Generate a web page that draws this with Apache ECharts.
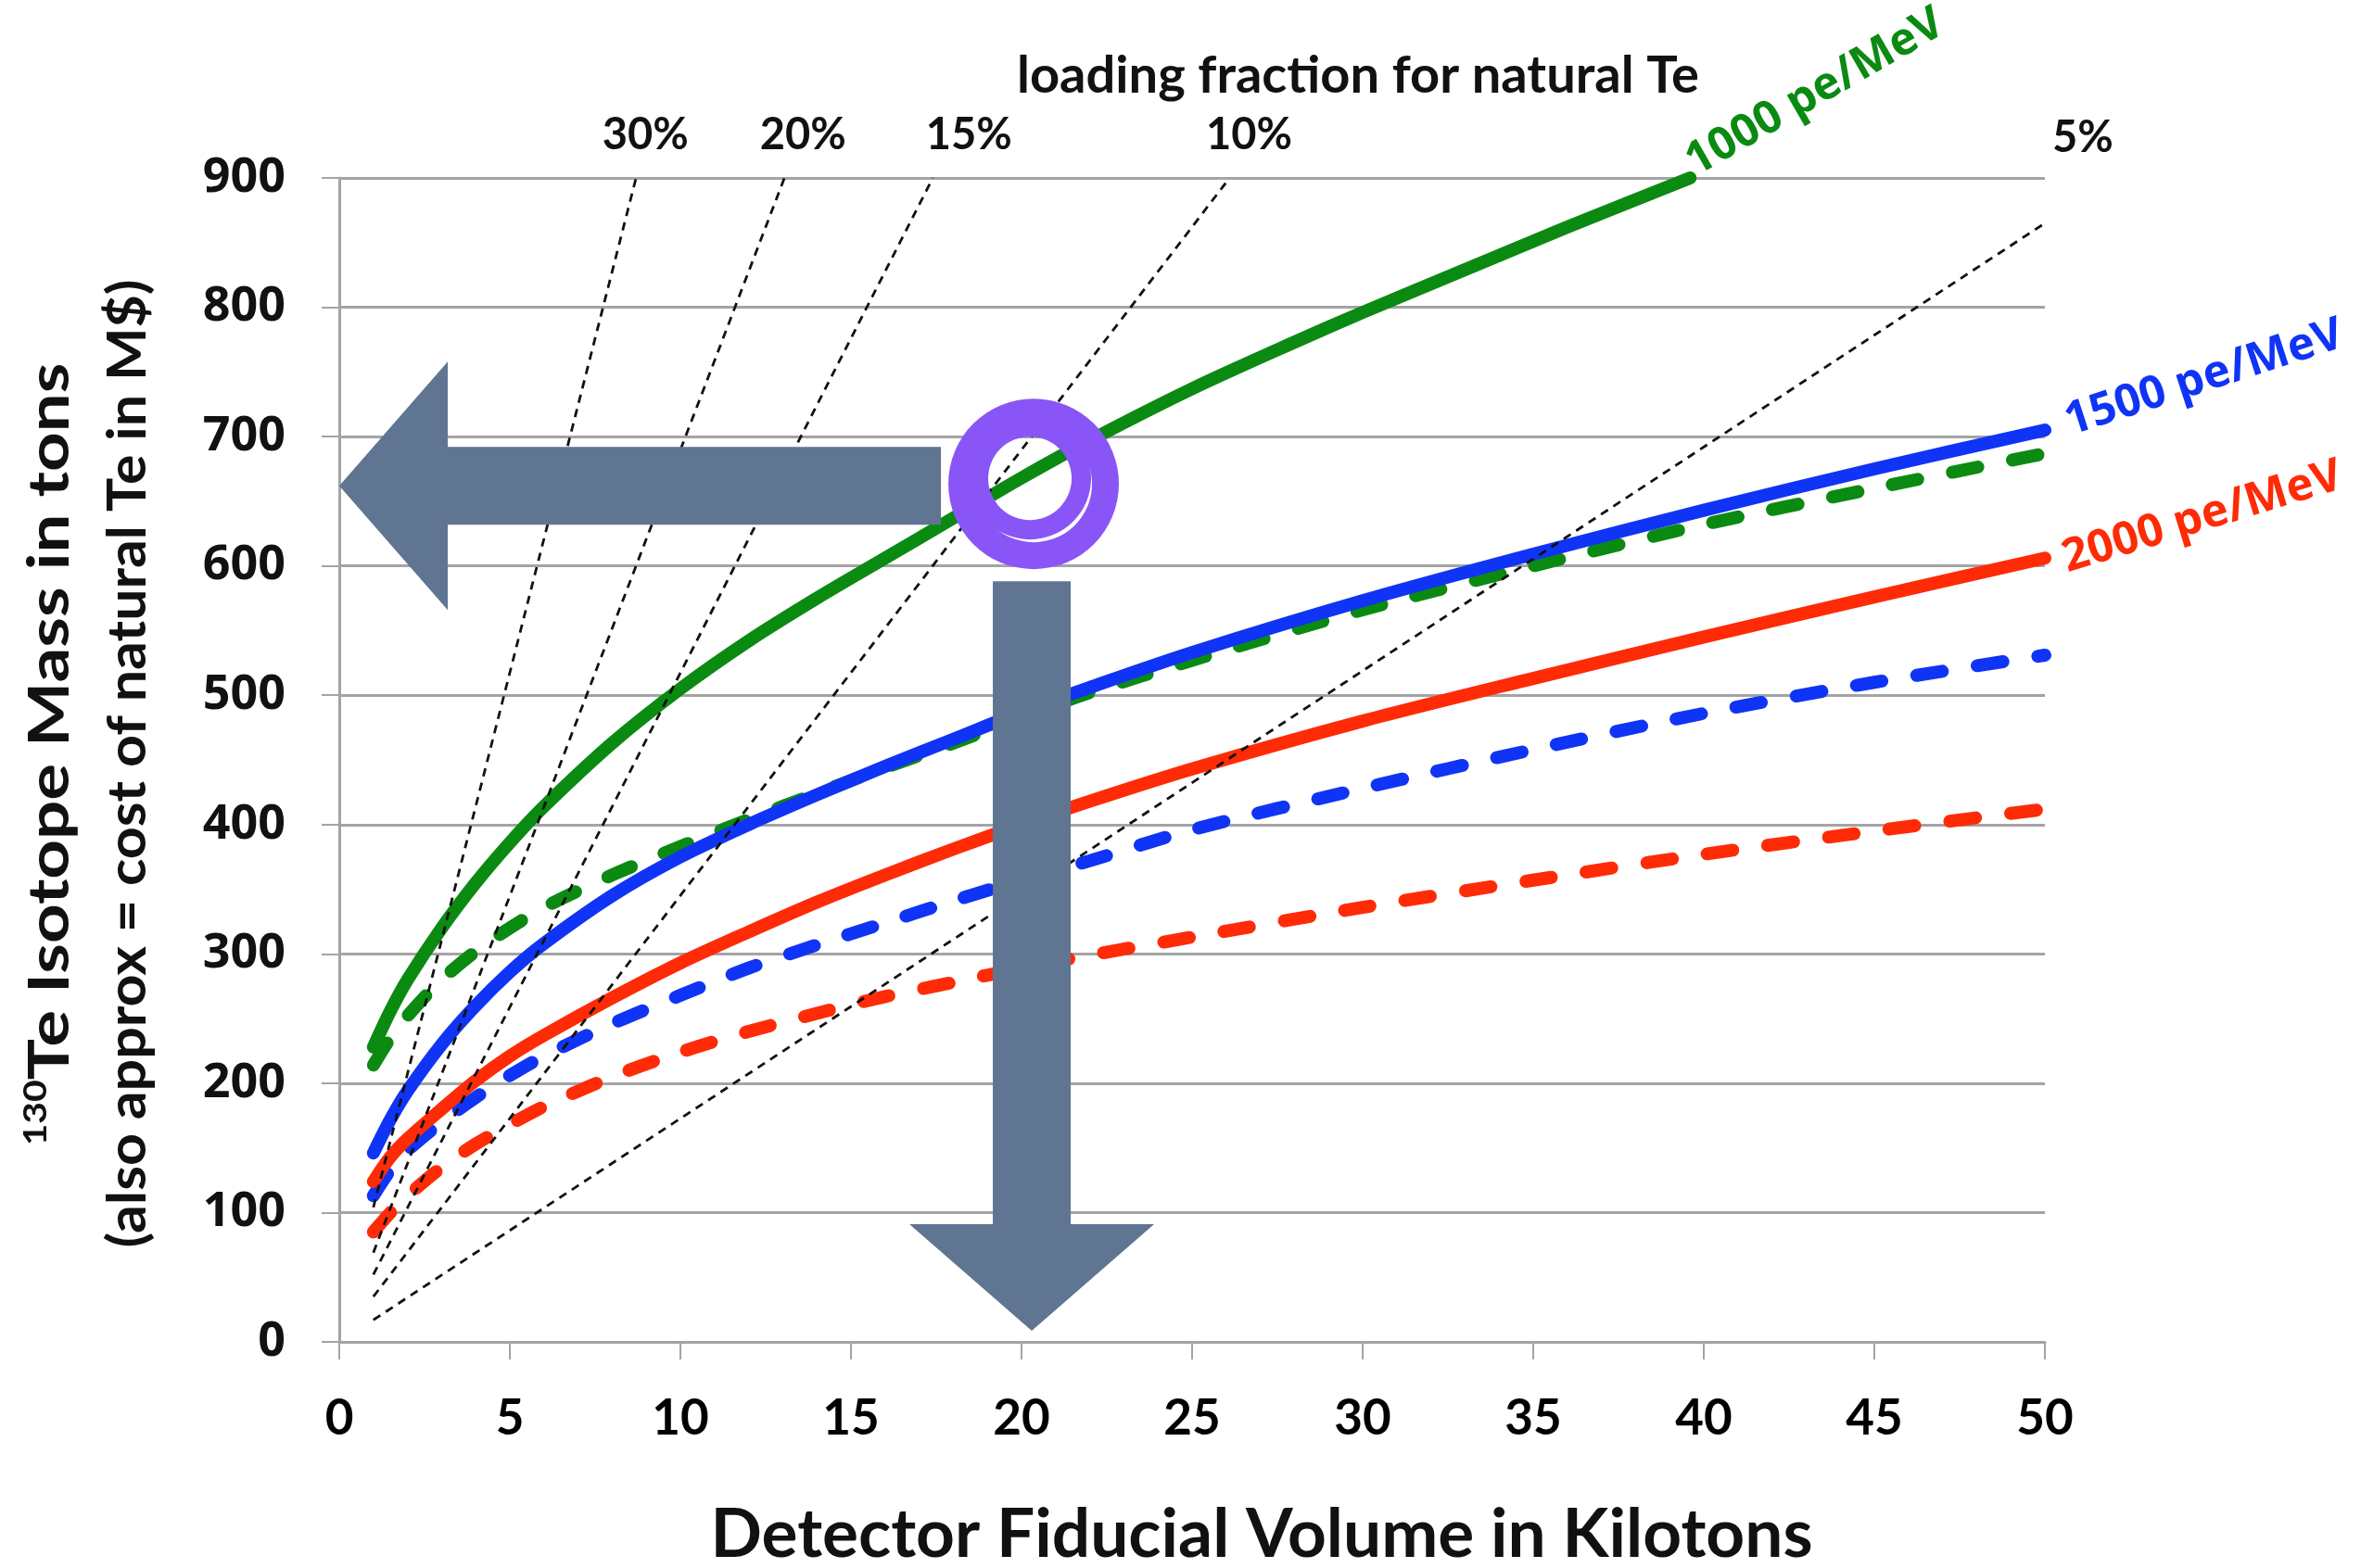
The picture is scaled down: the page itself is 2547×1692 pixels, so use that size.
<!DOCTYPE html>
<html>
<head>
<meta charset="utf-8">
<title>130Te isotope mass vs detector fiducial volume</title>
<script src="https://cdn.jsdelivr.net/npm/echarts@6/dist/echarts.min.js"></script>
<style>
  html, body { margin: 0; padding: 0; background: #ffffff; }
  #chart { width: 2547px; height: 1692px; }
</style>
</head>
<body>
<div id="chart"></div>
<script>
// ---------------------------------------------------------------
// Data
// ---------------------------------------------------------------
// Fiducial volume (kilotons) where the curves are sampled
const volumeKt = [1, 1.5, 2, 3, 4, 5, 6, 8, 10, 12, 14, 16, 18, 20, 22, 25, 30, 35, 40, 45, 50];
// The 1000 pe/MeV solid curve leaves the plot at 900 t, so it has its own sampling
const volumeKtGreen = [1, 1.5, 2, 3, 4, 5, 6, 8, 10, 12, 14, 16, 18, 20, 22, 25, 28, 30, 33, 36, 39.6];

// 130Te isotope mass in tons
const mass1000Solid  = [228, 256, 280, 320, 355, 386, 414, 463, 505, 542, 575, 606, 637, 668, 697, 737, 773, 796, 829, 862, 900];
const mass1000Dashed = [214, 235, 252, 280, 302, 320, 336, 361, 383, 404, 424, 444, 463, 483, 502, 527, 566, 600, 632, 660, 687];
const mass1500Solid  = [146, 172, 194, 230, 260, 286, 308, 345, 375, 400, 423, 445, 466, 487, 506, 533, 573, 609, 643, 675, 705];
const mass1500Dashed = [113, 133, 148, 170, 189, 206, 221, 246, 268, 289, 307, 324, 341, 357, 372, 396, 428, 458, 486, 510, 531];
const mass2000Solid  = [124, 143, 157, 180, 202, 221, 237, 266, 293, 317, 340, 361, 381, 400, 418, 443, 480, 513, 545, 576, 606];
const mass2000Dashed = [85, 100, 113, 135, 153, 168, 182, 205, 224, 240, 254, 267, 278, 289, 299, 313, 336, 357, 377, 395, 412];

// Light-yield labels for the three curve families
const lightYieldLabels = ['1000 pe/MeV', '1500 pe/MeV', '2000 pe/MeV'];

// Constant loading-fraction guide lines (natural Te): start and end points
const loadingPct   = ['5%', '10%', '15%', '20%', '30%'];
const loadingStart = [[1, 17], [1, 35], [1, 52], [1, 69], [1, 104]];
const loadingEnd   = [[50, 865], [26.1, 900], [17.4, 900], [13.05, 900], [8.7, 900]];

// Axis ticks
const xTicks = { min: 0, max: 50, step: 5 };
const yTicks = { min: 0, max: 900, step: 100 };

// Highlighted working point: ~20 kt fiducial volume, ~660 t of 130Te
const focusPoint = [20.3, 662];

// ---------------------------------------------------------------
// Styling / layout
// ---------------------------------------------------------------
const GREEN = '#0b8a12';
const BLUE  = '#1034f5';
const RED   = '#ff2b06';
const GRID_GRAY = '#a4a4a4';
const ARROW = '#5f7592';
const MARKER = '#8a55f6';
const CLEAR = 'rgba(0,0,0,0)';

const GRID = { left: 366, right: 341, top: 192, bottom: 244 };

// on-screen pixel offsets of the guide-line labels from each line's top end
const pctLabelOffset = { '5%': [41, -92], '10%': [21, -46], '15%': [39, -46], '20%': [20, -46], '30%': [10, -46] };
// on-screen pixel offsets and rotation of the light-yield labels from their curve ends
const yieldLabelLayout = [
  { offset: [135, -92], rotate: 30 },
  { offset: [172, -56], rotate: 18 },
  { offset: [170, -44], rotate: 17 }
];

// label offsets are applied in the label's rotated frame; convert a screen offset into it
function rotatedOffset(d, deg) {
  const t = deg * Math.PI / 180, cs = Math.cos(t), sn = Math.sin(t);
  return [d[0] * cs - d[1] * sn, d[0] * sn + d[1] * cs];
}

function zip(xs, ys) { return xs.map((x, i) => [x, ys[i]]); }

function curve(name, xs, ys, color, dashed) {
  return {
    name: name,
    type: 'line',
    data: zip(xs, ys),
    smooth: 0.3,
    showSymbol: false,
    symbol: 'none',
    silent: true,
    z: 3,
    lineStyle: {
      color: color,
      width: 14,
      type: dashed ? [28, 38] : 'solid',
      cap: 'round',
      join: 'round'
    }
  };
}

const curveSeries = [
  curve('1000 pe/MeV', volumeKtGreen, mass1000Solid, GREEN, false),
  curve('1000 pe/MeV dashed', volumeKt, mass1000Dashed, GREEN, true),
  curve('1500 pe/MeV', volumeKt, mass1500Solid, BLUE, false),
  curve('1500 pe/MeV dashed', volumeKt, mass1500Dashed, BLUE, true),
  curve('2000 pe/MeV', volumeKt, mass2000Solid, RED, false),
  curve('2000 pe/MeV dashed', volumeKt, mass2000Dashed, RED, true)
];

const loadingSeries = loadingPct.map((pct, i) => ({
  name: 'loading ' + pct,
  type: 'line',
  data: [loadingStart[i], loadingEnd[i]],
  showSymbol: false,
  symbol: 'none',
  silent: true,
  z: 5,
  lineStyle: { color: '#111111', width: 2.8, type: [9, 7] }
}));

// Labels of the guide lines, placed at their upper ends
const pctLabelSeries = {
  type: 'scatter',
  symbolSize: 2,
  itemStyle: { color: CLEAR, opacity: 1 },
  silent: true,
  clip: false,
  z: 6,
  data: loadingPct.map((pct, i) => ({
    value: loadingEnd[i],
    name: pct,
    label: {
      show: true,
      position: 'inside',
      offset: pctLabelOffset[pct],
      formatter: pct,
      fontFamily: 'Lato',
      fontWeight: 'bold',
      fontSize: 47,
      color: '#111111'
    }
  }))
};

// Light-yield labels, placed beyond the end of each solid curve
const yieldEnds = [
  [volumeKtGreen[volumeKtGreen.length - 1], mass1000Solid[mass1000Solid.length - 1]],
  [volumeKt[volumeKt.length - 1], mass1500Solid[mass1500Solid.length - 1]],
  [volumeKt[volumeKt.length - 1], mass2000Solid[mass2000Solid.length - 1]]
];
const yieldColors = [GREEN, BLUE, RED];
const yieldLabelSeries = {
  type: 'scatter',
  symbolSize: 2,
  itemStyle: { color: CLEAR, opacity: 1 },
  silent: true,
  clip: false,
  z: 6,
  data: lightYieldLabels.map((txt, i) => ({
    value: yieldEnds[i],
    name: txt,
    label: {
      show: true,
      position: 'inside',
      offset: rotatedOffset(yieldLabelLayout[i].offset, yieldLabelLayout[i].rotate),
      rotate: yieldLabelLayout[i].rotate,
      formatter: txt,
      fontFamily: 'Noto Sans',
      fontWeight: 'bold',
      fontSize: 49,
      color: yieldColors[i]
    }
  }))
};

const chart = echarts.init(document.getElementById('chart'), null, { renderer: 'canvas' });

chart.setOption({
  animation: false,
  backgroundColor: '#ffffff',
  grid: { left: GRID.left, right: GRID.right, top: GRID.top, bottom: GRID.bottom, containLabel: false },
  xAxis: {
    type: 'value',
    min: xTicks.min,
    max: xTicks.max,
    interval: xTicks.step,
    axisLine: { show: true, onZero: false, lineStyle: { color: GRID_GRAY, width: 3 } },
    axisTick: { show: true, inside: false, length: 19, lineStyle: { color: GRID_GRAY, width: 2 } },
    splitLine: { show: false },
    axisLabel: {
      margin: 56,
      fontFamily: 'Lato',
      fontWeight: 'bold',
      fontSize: 53,
      color: '#000000'
    }
  },
  yAxis: {
    type: 'value',
    min: yTicks.min,
    max: yTicks.max,
    interval: yTicks.step,
    axisLine: { show: true, lineStyle: { color: GRID_GRAY, width: 3 } },
    axisTick: { show: true, inside: false, length: 19, lineStyle: { color: GRID_GRAY, width: 2 } },
    splitLine: { show: true, lineStyle: { color: GRID_GRAY, width: 3 } },
    axisLabel: {
      margin: 58,
      fontFamily: 'Noto Sans',
      fontWeight: 'bold',
      fontSize: 52,
      color: '#111111'
    }
  },
  series: curveSeries.concat(loadingSeries, [pctLabelSeries, yieldLabelSeries])
});

// ---------------------------------------------------------------
// Titles and the highlighted working point (arrows + circle)
// ---------------------------------------------------------------
const c = chart.convertToPixel({ gridIndex: 0 }, focusPoint);
const yAxisAtFocus = chart.convertToPixel({ gridIndex: 0 }, [xTicks.min, focusPoint[1]]);
const xAxisAtFocus = chart.convertToPixel({ gridIndex: 0 }, [focusPoint[0], yTicks.min]);

const ARW = { shaftHalf: 42, headHalf: 134, headLen: 117, gapLeft: 98, gapBelow: 103, tipLift: 12, downHeadLen: 115, downHeadHalf: 132 };

const lx = yAxisAtFocus[0], ly = c[1];
const leftArrow = [
  [lx, ly],
  [lx + ARW.headLen, ly - ARW.headHalf],
  [lx + ARW.headLen, ly - ARW.shaftHalf],
  [c[0] - ARW.gapLeft, ly - ARW.shaftHalf],
  [c[0] - ARW.gapLeft, ly + ARW.shaftHalf],
  [lx + ARW.headLen, ly + ARW.shaftHalf],
  [lx + ARW.headLen, ly + ARW.headHalf]
];

const dx = c[0], tipY = xAxisAtFocus[1] - ARW.tipLift, baseY = tipY - ARW.downHeadLen, topY = c[1] + ARW.gapBelow;
const downArrow = [
  [dx - ARW.shaftHalf, topY],
  [dx + ARW.shaftHalf, topY],
  [dx + ARW.shaftHalf, baseY],
  [dx + ARW.downHeadHalf, baseY],
  [dx, tipY],
  [dx - ARW.downHeadHalf, baseY],
  [dx - ARW.shaftHalf, baseY]
];

const plotCenterY = (GRID.top + (1692 - GRID.bottom)) / 2;

chart.setOption({
  graphic: [
    {
      type: 'text', x: 1465, y: 82, z: 10,
      style: {
        text: 'loading fraction for natural Te',
        fontFamily: 'Lato', fontWeight: 'bold', fontSize: 56,
        fill: '#111111', align: 'center', verticalAlign: 'middle'
      }
    },
    {
      type: 'text', x: 1361, y: 1656, z: 10,
      style: {
        text: 'Detector Fiducial Volume in Kilotons',
        fontFamily: 'Lato', fontWeight: 'bold', fontSize: 73,
        fill: '#111111', align: 'center', verticalAlign: 'middle'
      }
    },
    {
      type: 'text', x: 54, y: plotCenterY - 6, rotation: Math.PI / 2, scaleX: 1.2, z: 10,
      style: {
        text: '{sup|130}{main|Te Isotope Mass in tons}',
        align: 'center', verticalAlign: 'middle', fill: '#111111',
        rich: {
          sup: { fontFamily: 'Lato', fontWeight: 'bold', fontSize: 34, verticalAlign: 'top', lineHeight: 64, fill: '#111111' },
          main: { fontFamily: 'Lato', fontWeight: 'bold', fontSize: 62, lineHeight: 64, fill: '#111111' }
        }
      }
    },
    {
      type: 'text', x: 138, y: plotCenterY + 4, rotation: Math.PI / 2, scaleX: 1.05, z: 10,
      style: {
        text: '(also approx = cost of natural Te in M$)',
        fontFamily: 'Lato', fontWeight: 'bold', fontSize: 58,
        fill: '#111111', align: 'center', verticalAlign: 'middle'
      }
    },
    {
      type: 'polygon', z: 20, silent: true,
      shape: { points: leftArrow },
      style: { fill: ARROW }
    },
    {
      type: 'polygon', z: 20, silent: true,
      shape: { points: downArrow },
      style: { fill: ARROW }
    },
    {
      type: 'ring', z: 21, silent: true, x: c[0] + 2, y: c[1] - 2,
      shape: { cx: 0, cy: 0, r: 92, r0: 63 },
      style: { fill: MARKER }
    },
    {
      type: 'ring', z: 21, silent: true, x: c[0] - 2, y: c[1] - 8,
      shape: { cx: 0, cy: 0, r: 66, r0: 45 },
      style: { fill: MARKER }
    }
  ]
});
</script>
</body>
</html>
